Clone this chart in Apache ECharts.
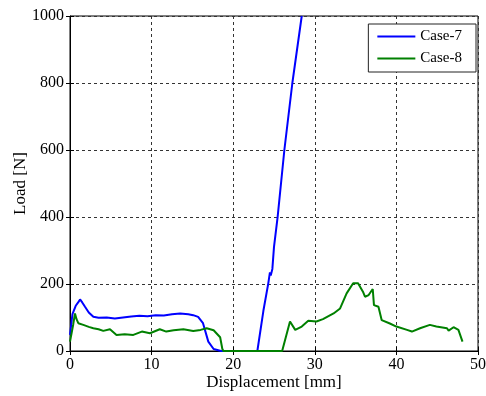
<!DOCTYPE html>
<html><head><meta charset="utf-8">
<script src="https://cdn.jsdelivr.net/npm/echarts@6/dist/echarts.min.js"></script>
<style>html,body{margin:0;padding:0;background:#fff}#c{width:486px;height:396px}</style>
</head><body><div id="c"></div>
<script>
const xTicks = [0, 10, 20, 30, 40, 50];
const yTicks = [0, 200, 400, 600, 800, 1000];
const case7X = [0, 0.3, 0.7, 1.0, 1.23, 1.5, 1.84, 2.3, 2.86, 3.5, 4.5, 5.5, 6.5, 7.5, 8.5, 9.5, 10.5, 11.5, 12.5, 13.5, 14.5, 15.1, 15.7, 16.3, 16.95, 17.6, 18.5, 20, 22, 22.96, 23.7, 24.3, 24.5, 24.6, 24.8, 25.0, 25.45, 26.27, 27.25, 28.4];
const case7Y = [48, 110, 135, 145, 154, 145, 132, 115, 102, 99, 100, 97, 100, 103, 105, 104, 107, 106, 110, 112, 110, 107, 102, 83, 28, 6, 0, 0, 0, 0, 120, 202, 235, 225, 245, 311, 401, 600, 800, 1000];
const case8X = [0, 0.4, 0.61, 0.8, 1.02, 1.63, 2.3, 2.86, 3.5, 4.08, 4.9, 5.7, 6.7, 7.76, 8.8, 9.8, 11.0, 11.8, 12.7, 13.9, 15.1, 16.0, 16.75, 17.6, 18.4, 18.67, 18.8, 20, 24, 26.0, 26.96, 27.6, 28.4, 29.2, 30.2, 31.0, 32.3, 33.1, 33.9, 34.7, 35.3, 35.9, 36.15, 36.6, 37.1, 37.25, 37.8, 38.2, 39.2, 40.0, 41.3, 41.9, 42.9, 44.1, 44.9, 46.2, 46.4, 47.0, 47.6, 48.1];
const case8Y = [28, 80, 112, 95, 83, 78, 72, 68, 65, 60, 65, 48, 50, 48, 58, 53, 65, 58, 62, 65, 60, 63, 68, 62, 41, 6, 0, 0, 0, 0, 88, 63, 73, 90, 88, 95, 112, 127, 172, 202, 202, 177, 162, 167, 185, 137, 132, 92, 82, 73, 63, 58, 68, 78, 73, 68, 61, 71, 63, 28];

const pairs = (xs, ys) => xs.map((x, i) => [x, ys[i]]);
const font = 'Liberation Serif';
const chart = echarts.init(document.getElementById('c'), null, {renderer: 'canvas'});
const gridLine = {show: true, lineStyle: {color: '#333', type: [3, 3], width: 1}};
const tick = {show: true, inside: true, length: 4, lineStyle: {color: '#000'}};
chart.setOption({
  animation: false,
  backgroundColor: '#fff',
  grid: {left: 70, right: 8, top: 16, bottom: 45, show: true, borderColor: '#000', borderWidth: 1,
    backgroundColor: 'transparent', containLabel: false, outerBoundsMode: 'none'},
  legend: {
    right: 10, top: 24, orient: 'vertical',
    data: ['Case-7', 'Case-8'],
    backgroundColor: '#fff', borderColor: '#222', borderWidth: 1,
    padding: [5, 14, 6, 9], itemGap: 7,
    itemWidth: 38, itemHeight: 16, icon: 'path://M0,6 L40,6 L40,8 L0,8 Z',
    textStyle: {fontFamily: font, fontSize: 15, color: '#000'}
  },
  xAxis: [{
    type: 'value', min: 0, max: 50, interval: 10,
    name: 'Displacement [mm]', nameLocation: 'middle', nameGap: 23, nameMoveOverlap: false,
    nameTextStyle: {fontFamily: font, fontSize: 17, color: '#000'},
    axisLine: {show: true, lineStyle: {color: '#000'}},
    axisTick: tick,
    axisLabel: {fontFamily: font, fontSize: 16, color: '#000', margin: 6,
      formatter: v => xTicks.includes(v) ? String(v) : ''},
    splitLine: gridLine
  }, {
    type: 'value', position: 'top', min: 0, max: 50, interval: 10,
    axisLine: {show: false}, axisLabel: {show: false}, splitLine: {show: false},
    axisTick: tick
  }],
  yAxis: [{
    type: 'value', min: 0, max: 1000, interval: 200,
    name: 'Load [N]', nameLocation: 'middle', nameGap: 41, nameMoveOverlap: false,
    nameTextStyle: {fontFamily: font, fontSize: 17, color: '#000'},
    axisLine: {show: true, lineStyle: {color: '#000'}},
    axisTick: tick,
    axisLabel: {fontFamily: font, fontSize: 16, color: '#000', margin: 6,
      formatter: v => yTicks.includes(v) ? String(v) : ''},
    splitLine: gridLine
  }, {
    type: 'value', position: 'right', min: 0, max: 1000, interval: 200,
    axisLine: {show: false}, axisLabel: {show: false}, splitLine: {show: false},
    axisTick: tick
  }],
  series: [
    {name: 'Case-7', type: 'line', data: pairs(case7X, case7Y), showSymbol: false, clip: true,
      lineStyle: {color: '#0000ff', width: 2}, itemStyle: {color: '#0000ff'}},
    {name: 'Case-8', type: 'line', data: pairs(case8X, case8Y), showSymbol: false, clip: true,
      lineStyle: {color: '#008000', width: 2}, itemStyle: {color: '#008000'}}
  ]
});
</script></body></html>
